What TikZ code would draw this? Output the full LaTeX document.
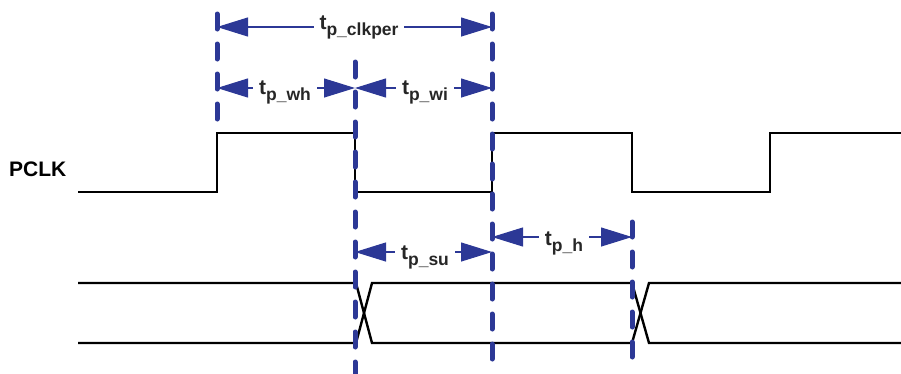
\documentclass[tikz,border=0pt]{standalone}
\usepackage{fontspec}
\setmainfont{Liberation Sans}
\usetikzlibrary{arrows.meta}
\definecolor{dimblue}{RGB}{44,56,150}
\newcommand{\tlab}[1]{{\fontsize{21}{25}\selectfont t}\raisebox{-6pt}{\fontsize{17.5}{21}\selectfont #1}}
\begin{document}
\begin{tikzpicture}[x=1pt,y=-1pt,
  wave/.style={line width=2.4pt,black,line join=miter},
  guide/.style={line width=5pt,dimblue,line cap=round,dash pattern=on 15pt off 15pt},
  dim/.style={line width=1.1pt,dimblue,{Triangle[length=31pt,width=19pt]}-{Triangle[length=31pt,width=19pt]}},
  lab/.style={font=\bfseries,text=black!85,fill=white,inner sep=6pt,anchor=base}]
\useasboundingbox (0,0) rectangle (901,373);
% clock
\node[font=\bfseries\fontsize{21}{25}\selectfont,anchor=base west,inner sep=0pt] (pclk) at (9,176) {PCLK};
\coordinate (c0) at (78,192);
\draw[wave] (c0) -- (217,192) -- (217,133) -- (355,133) -- (355,192) -- (492,192) -- (492,133) -- (632,133) -- (632,192) -- (770,192) -- (770,133) -- (901,133);
% data
\coordinate (d0) at (78,283);
\coordinate (e0) at (78,343);
\draw[wave] (d0) -- (356,283) -- (372,343) -- (632,343) -- (649,283) -- (901,283);
\draw[wave] (e0) -- (356,343) -- (372,283) -- (632,283) -- (649,343) -- (901,343);
% guide lines
\coordinate (g1t) at (217,14); \coordinate (g1b) at (217,122);
\coordinate (g2t) at (355,62); \coordinate (g2b) at (355,380);
\coordinate (g3t) at (492,14); \coordinate (g3b) at (492,362);
\coordinate (g4t) at (632,222); \coordinate (g4b) at (632,362);
\draw[guide] (g1t) -- (g1b);
\draw[guide] (g2t) -- (g2b);
\draw[guide] (g3t) -- (g3b);
\draw[guide] (g4t) -- (g4b);
% dimension arrows
\coordinate (a1l) at (217,27); \coordinate (a1r) at (492,27);
\coordinate (a2l) at (217,88); \coordinate (a2m) at (355,88); \coordinate (a2r) at (492,88);
\coordinate (a3l) at (355,252); \coordinate (a3r) at (492,252);
\coordinate (a4l) at (492,237); \coordinate (a4r) at (632,237);
\draw[dim] (a1l) -- (a1r);
\draw[dim] (a2l) -- (a2m);
\draw[dim] (a2m) -- (a2r);
\draw[dim] (a3l) -- (a3r);
\draw[dim] (a4l) -- (a4r);
\node[lab] (lclk) at (359,29) {\tlab{p\_clkper}};
\node[lab] (lwh) at (285,94) {\tlab{p\_wh}};
\node[lab] (lwi) at (425,94) {\tlab{p\_wi}};
\node[lab] (lsu) at (425,259) {\tlab{p\_su}};
\node[lab] (lh) at (564,245) {\tlab{p\_h}};
\end{tikzpicture}
\end{document}
